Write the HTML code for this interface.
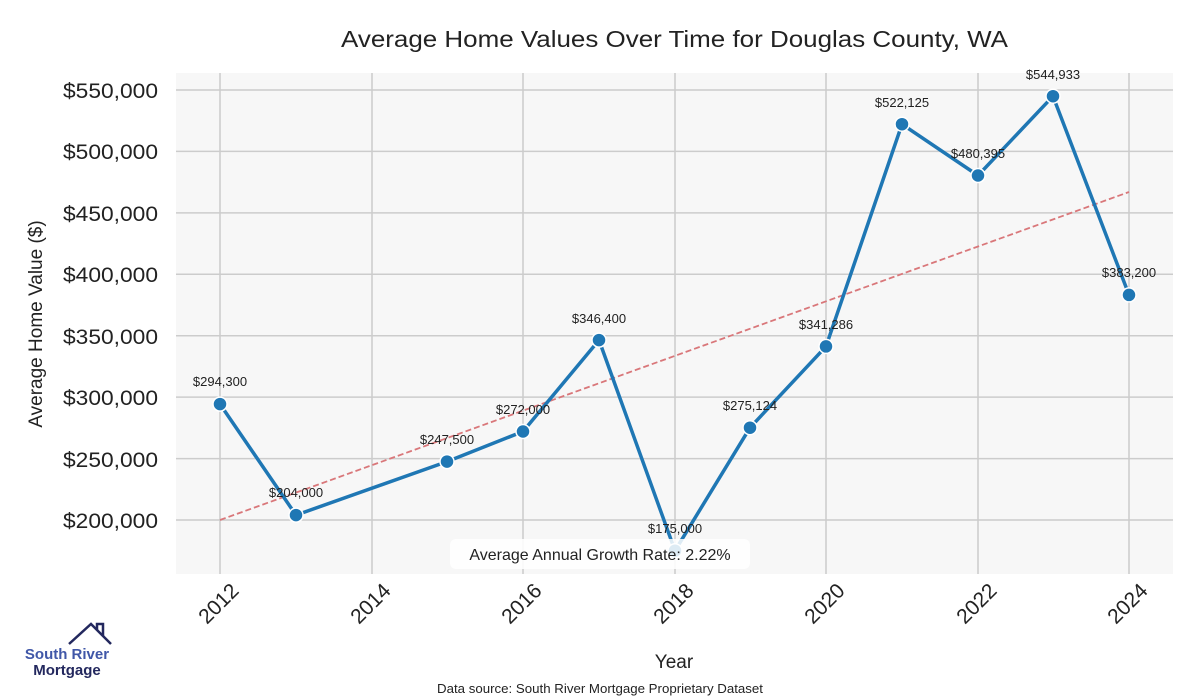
<!DOCTYPE html>
<html><head><meta charset="utf-8"><style>body{margin:0;background:#fff}svg{display:block}text{font-family:"Liberation Sans",sans-serif}</style></head><body>
<svg width="1200" height="700" xmlns="http://www.w3.org/2000/svg">
<rect width="1200" height="700" fill="#fff"/>
<rect x="176" y="73" width="997" height="501" fill="#f7f7f7"/>
<g stroke="#cccccc" stroke-width="1.5">
<line x1="176" x2="1173" y1="90" y2="90"/><line x1="176" x2="1173" y1="151.4" y2="151.4"/><line x1="176" x2="1173" y1="212.9" y2="212.9"/><line x1="176" x2="1173" y1="274.3" y2="274.3"/><line x1="176" x2="1173" y1="335.7" y2="335.7"/><line x1="176" x2="1173" y1="397.1" y2="397.1"/><line x1="176" x2="1173" y1="458.6" y2="458.6"/><line x1="176" x2="1173" y1="520" y2="520"/>
<line y1="73" y2="574" x1="220" x2="220"/><line y1="73" y2="574" x1="372" x2="372"/><line y1="73" y2="574" x1="523" x2="523"/><line y1="73" y2="574" x1="675" x2="675"/><line y1="73" y2="574" x1="826" x2="826"/><line y1="73" y2="574" x1="978" x2="978"/><line y1="73" y2="574" x1="1129" x2="1129"/>
</g>
<text x="341" y="47" font-size="23" textLength="667" lengthAdjust="spacingAndGlyphs" fill="#222">Average Home Values Over Time for Douglas County, WA</text>
<g font-size="21" fill="#222" text-anchor="end">
<text x="158" y="98" textLength="95" lengthAdjust="spacingAndGlyphs">$550,000</text><text x="158" y="159" textLength="95" lengthAdjust="spacingAndGlyphs">$500,000</text><text x="158" y="221" textLength="95" lengthAdjust="spacingAndGlyphs">$450,000</text><text x="158" y="282" textLength="95" lengthAdjust="spacingAndGlyphs">$400,000</text><text x="158" y="344" textLength="95" lengthAdjust="spacingAndGlyphs">$350,000</text><text x="158" y="405" textLength="95" lengthAdjust="spacingAndGlyphs">$300,000</text><text x="158" y="467" textLength="95" lengthAdjust="spacingAndGlyphs">$250,000</text><text x="158" y="528" textLength="95" lengthAdjust="spacingAndGlyphs">$200,000</text>
</g>
<text transform="translate(42,324) rotate(-90)" font-size="19" text-anchor="middle" fill="#222">Average Home Value ($)</text>
<g font-size="21" fill="#222" text-anchor="end">
<text transform="translate(240,592) rotate(-45)">2012</text><text transform="translate(392,592) rotate(-45)">2014</text><text transform="translate(543,592) rotate(-45)">2016</text><text transform="translate(695,592) rotate(-45)">2018</text><text transform="translate(846,592) rotate(-45)">2020</text><text transform="translate(998,592) rotate(-45)">2022</text><text transform="translate(1149,592) rotate(-45)">2024</text>
</g>
<text x="674" y="668" font-size="19" text-anchor="middle" fill="#222">Year</text>
<text x="437" y="693" font-size="13" textLength="326" lengthAdjust="spacingAndGlyphs" fill="#222">Data source: South River Mortgage Proprietary Dataset</text>
<line x1="220" y1="520" x2="1129" y2="192" stroke="#d9777a" stroke-width="1.8" stroke-dasharray="6,3"/>
<polyline fill="none" stroke="#1f77b4" stroke-width="3.5" stroke-linejoin="round" points="220,404.1 296,515.1 447,461.6 523,431.5 599,340.1 675,550.7 750,427.7 826,346.4 902,124.2 978,175.5 1053,96.2 1129,294.9"/>
<g fill="#1f77b4" stroke="#fff" stroke-width="1.5">
<circle cx="220" cy="404.1" r="7"/><circle cx="296" cy="515.1" r="7"/><circle cx="447" cy="461.6" r="7"/><circle cx="523" cy="431.5" r="7"/><circle cx="599" cy="340.1" r="7"/><circle cx="675" cy="550.7" r="7"/><circle cx="750" cy="427.7" r="7"/><circle cx="826" cy="346.4" r="7"/><circle cx="902" cy="124.2" r="7"/><circle cx="978" cy="175.5" r="7"/><circle cx="1053" cy="96.2" r="7"/><circle cx="1129" cy="294.9" r="7"/>
</g>
<g font-size="13" fill="#222" text-anchor="middle">
<text x="220" y="386">$294,300</text><text x="296" y="497">$204,000</text><text x="447" y="444">$247,500</text><text x="523" y="414">$272,000</text><text x="599" y="323">$346,400</text><text x="675" y="533">$175,000</text><text x="750" y="410">$275,124</text><text x="826" y="329">$341,286</text><text x="902" y="107">$522,125</text><text x="978" y="158">$480,395</text><text x="1053" y="79">$544,933</text><text x="1129" y="277">$383,200</text>
</g>
<rect x="450" y="539" width="300" height="30" rx="6" fill="#fff" fill-opacity="0.85"/>
<text x="600" y="560" font-size="16" text-anchor="middle" fill="#222">Average Annual Growth Rate: 2.22%</text>
<polyline points="69,644 91,624 111,644" fill="none" stroke="#23285e" stroke-width="2.5"/>
<polyline points="97,630 97,624 103,624 103,636" fill="none" stroke="#23285e" stroke-width="2.5"/>
<text x="67" y="659" font-size="15" font-weight="bold" fill="#4057a8" text-anchor="middle">South River</text>
<text x="67" y="675" font-size="15" font-weight="bold" fill="#23285e" text-anchor="middle">Mortgage</text>
</svg>
</body></html>
